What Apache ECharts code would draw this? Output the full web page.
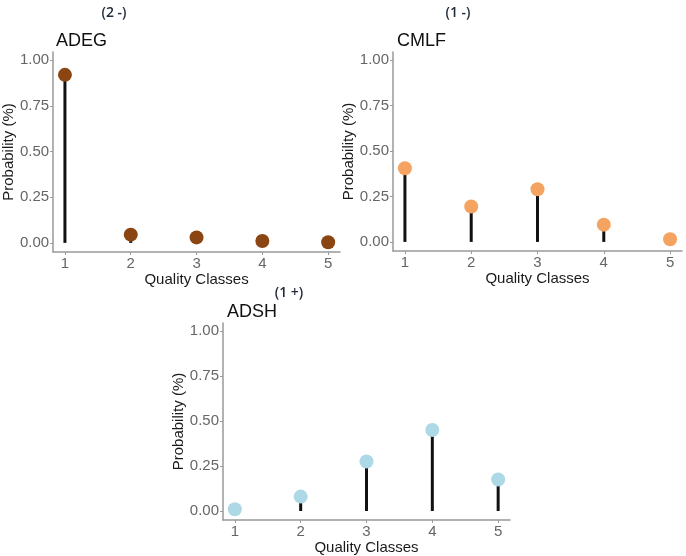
<!DOCTYPE html>
<html>
<head>
<meta charset="utf-8">
<script src="https://cdn.jsdelivr.net/npm/echarts@6/dist/echarts.min.js"></script>
<style>
  html, body { margin: 0; padding: 0; background: #fff; }
  #main { width: 686px; height: 556px; }
</style>
</head>
<body>
<div id="main"></div>
<script>
// quality classes and the probabilities
var classes = [1, 2, 3, 4, 5];
var yTicks = [0, 0.25, 0.5, 0.75, 1];
var adeg = [0.92, 0.045, 0.03, 0.01, 0.003];
var cmlf = [0.405, 0.195, 0.29, 0.095, 0.015];
var adsh = [0.01, 0.08, 0.275, 0.45, 0.175];

var panels = [
    { name: 'ADEG', tag: '(2 -)', values: adeg, color: '#8b4513',
      grid: { left: 52, top: 52, width: 288, height: 200 }, tagPos: [114, 13] },
    { name: 'CMLF', tag: '(1 -)', values: cmlf, color: '#f4a460',
      grid: { left: 393, top: 52, width: 289, height: 199 }, tagPos: [458, 13] },
    { name: 'ADSH', tag: '(1 +)', values: adsh, color: '#add8e6',
      grid: { left: 223, top: 323, width: 287, height: 198 }, tagPos: [289, 293] }
];

var grids = [], xAxes = [], yAxes = [], series = [], titles = [], graphics = [];

panels.forEach(function (p, i) {
    grids.push(p.grid);
    xAxes.push({
        type: 'value', gridIndex: i, min: 0.82, max: 5.18,
        name: 'Quality Classes', nameLocation: 'middle', nameGap: 20,
        nameTextStyle: { fontSize: 15, color: '#1a1a1a', fontFamily: 'Liberation Sans' },
        axisLine: { show: true, onZero: false, lineStyle: { color: '#999', width: 1.5 } },
        axisTick: { show: true, length: 3, customValues: classes, lineStyle: { color: '#999' } },
        axisLabel: { customValues: classes, margin: 4, fontSize: 15, color: '#666',
                     fontFamily: 'Liberation Sans' },
        splitLine: { show: false }
    });
    yAxes.push({
        type: 'value', gridIndex: i, min: -0.05, max: 1.045,
        name: 'Probability (%)', nameLocation: 'middle', nameGap: 36,
        nameTextStyle: { fontSize: 15, color: '#1a1a1a', fontFamily: 'Liberation Sans' },
        axisLine: { show: true, onZero: false, lineStyle: { color: '#999', width: 1.5 } },
        axisTick: { show: true, length: 3, customValues: yTicks, lineStyle: { color: '#999' } },
        axisLabel: { customValues: yTicks, margin: 4, fontSize: 15, color: '#666',
                     fontFamily: 'Liberation Sans',
                     formatter: function (v) { return v.toFixed(2); } },
        splitLine: { show: false }
    });
    var pts = classes.map(function (c, k) { return [c, p.values[k]]; });
    series.push({
        type: 'bar', xAxisIndex: i, yAxisIndex: i, data: pts,
        barWidth: 3, itemStyle: { color: '#111' }, silent: true
    });
    series.push({
        type: 'scatter', xAxisIndex: i, yAxisIndex: i, data: pts,
        symbolSize: 14, itemStyle: { color: p.color, opacity: 1 }, z: 5
    });
    titles.push({
        text: p.name, left: p.grid.left - 1, top: p.grid.top - 25,
        textStyle: { fontSize: 18, fontWeight: 'normal', color: '#111', fontFamily: 'Liberation Sans' }
    });
    graphics.push({
        type: 'text', x: p.tagPos[0], y: p.tagPos[1],
        style: { text: p.tag, fontSize: 14, fontWeight: 600, fill: '#1f2a3a',
                 fontFamily: 'Open Sans', align: 'center', verticalAlign: 'middle' }
    });
});

var myChart = echarts.init(document.getElementById('main'));
myChart.setOption({
    animation: false,
    title: titles,
    grid: grids,
    xAxis: xAxes,
    yAxis: yAxes,
    series: series,
    graphic: graphics
});
</script>
</body>
</html>
